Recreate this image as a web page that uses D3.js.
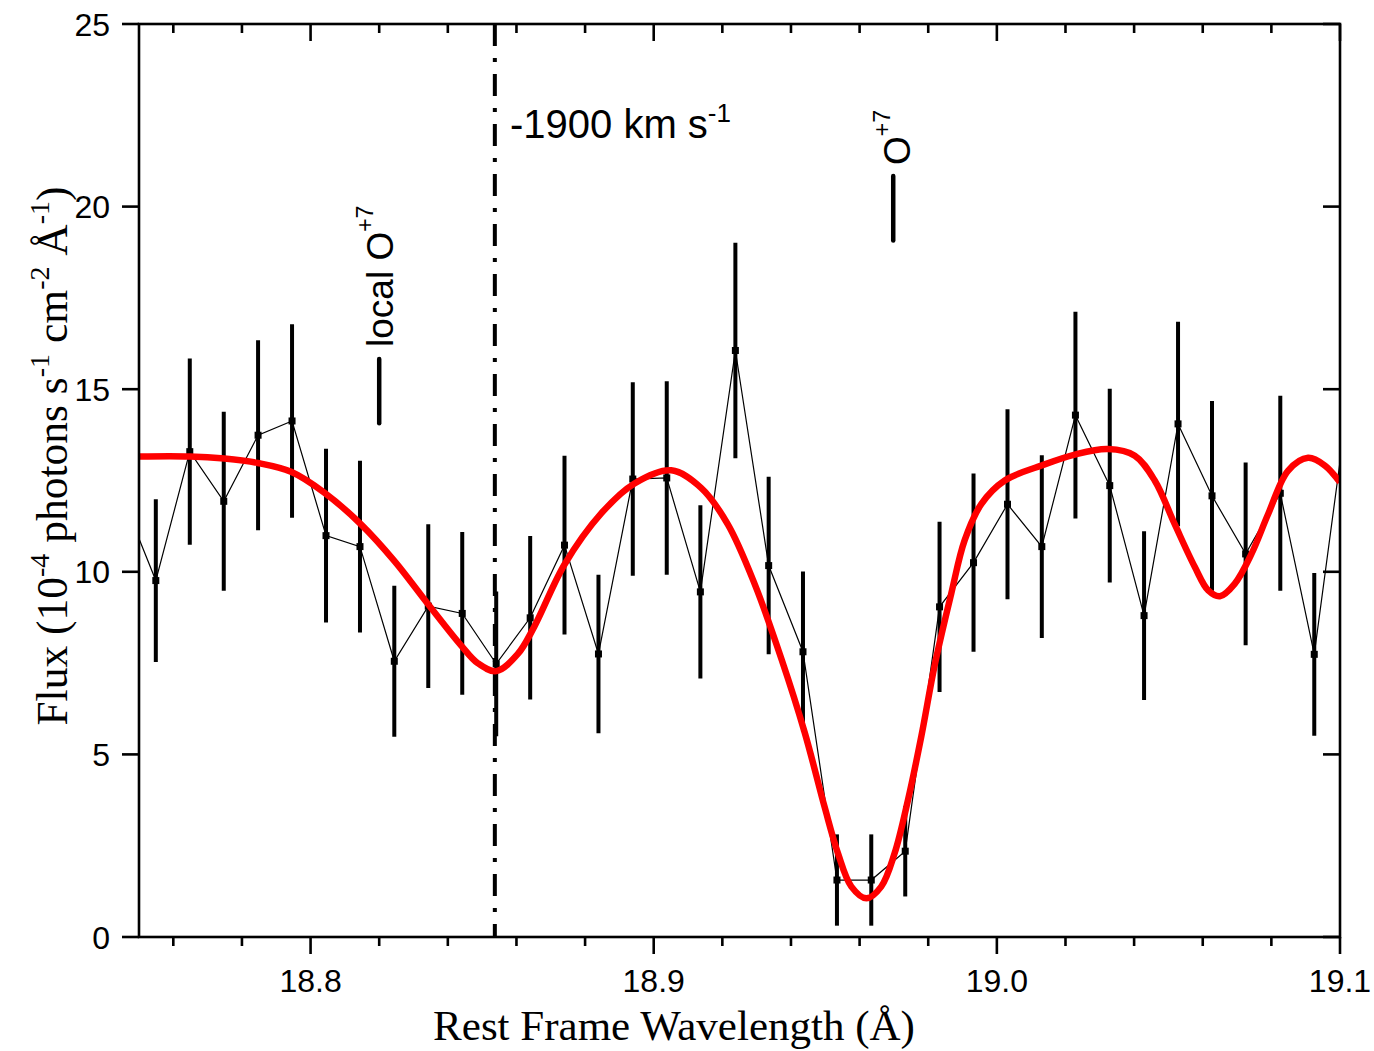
<!DOCTYPE html>
<html>
<head>
<meta charset="utf-8">
<script src="https://cdn.jsdelivr.net/npm/d3@7"></script>
<style>
  html, body { margin: 0; padding: 0; background: #fff; }
  svg { display: block; }
</style>
</head>
<body>
<svg id="chart" width="1374" height="1051"></svg>
<script>
// Binned spectrum: rest-frame wavelength (Å), flux (1e-4 photons s^-1 cm^-2 Å^-1), 1-sigma error
const wavelength = [18.7449, 18.7549, 18.7648, 18.7747, 18.7847, 18.7946, 18.8045, 18.8144, 18.8244,
  18.8343, 18.8442, 18.8541, 18.8640, 18.8740, 18.8839, 18.8939, 18.9038, 18.9136, 18.9238,
  18.9335, 18.9435, 18.9534, 18.9634, 18.9733, 18.9833, 18.9932, 19.0031, 19.0131, 19.0229,
  19.0329, 19.0429, 19.0528, 19.0627, 19.0725, 19.0826, 19.0925, 19.1024];
const flux = [12.1, 9.76, 13.29, 11.93, 13.74, 14.13, 10.99, 10.69, 7.55,
  9.06, 8.86, 7.48, 8.74, 10.73, 7.75, 12.54, 12.57, 9.45, 16.06,
  10.17, 7.81, 1.56, 1.56, 2.35, 9.04, 10.25, 11.85, 10.69, 14.29,
  12.36, 8.8, 14.05, 12.08, 10.49, 12.15, 7.74, 14.7];
const fluxErr = [2.4, 2.23, 2.55, 2.45, 2.6, 2.65, 2.38, 2.35, 2.07,
  2.24, 2.23, 1.98, 2.24, 2.45, 2.17, 2.65, 2.65, 2.37, 2.95,
  2.43, 2.2, 1.25, 1.25, 1.24, 2.33, 2.44, 2.6, 2.5, 2.83,
  2.65, 2.31, 2.8, 2.6, 2.5, 2.67, 2.23, 2.8];

// Best-fit absorption model
const modelWavelength = [18.75, 18.7648, 18.7749, 18.7846, 18.7943, 18.8040, 18.8147, 18.8244, 18.8342,
  18.8439, 18.8487, 18.8541, 18.8604, 18.8652, 18.8740, 18.8847, 18.8944, 18.9051, 18.9138,
  18.9216, 18.9294, 18.9372, 18.9440, 18.9498, 18.9537, 18.9576, 18.9620, 18.9663, 18.9702,
  18.9741, 18.9780, 18.9819, 18.9867, 18.9906, 18.9955, 19.0023, 19.0130, 19.0227, 19.0324,
  19.0402, 19.0460, 19.0518, 19.0577, 19.0616, 19.0650, 19.0693, 19.0742, 19.0791, 19.0849,
  19.0907, 19.0956, 19.1];
const modelFlux = [13.16, 13.16, 13.1, 12.98, 12.74, 12.17, 11.3, 10.3, 9.12,
  7.98, 7.5, 7.28, 7.75, 8.5, 10.2, 11.6, 12.42, 12.78, 12.3,
  11.3, 9.67, 7.62, 5.6, 3.56, 2.29, 1.38, 1.06, 1.38, 2.29,
  3.75, 5.5, 7.45, 9.4, 10.86, 11.86, 12.5, 12.91, 13.21, 13.36,
  13.18, 12.5, 11.31, 10.13, 9.49, 9.33, 9.67, 10.49, 11.59, 12.77,
  13.12, 12.91, 12.45];

// Axis ticks
const xMajorTicks = [18.8, 18.9, 19.0, 19.1];
const xMinorTicks = [18.76, 18.78, 18.82, 18.84, 18.86, 18.88, 18.92, 18.94, 18.96, 18.98,
  19.02, 19.04, 19.06, 19.08];
const yTicks = [0, 5, 10, 15, 20, 25];

// Markers
const velocityLine = 18.8537;
const lineMarks = [
  { name: "local O", sup: "+7", wave: 18.8200, lo: 14.07, hi: 15.83 },
  { name: "O", sup: "+7", wave: 18.9698, lo: 19.07, hi: 20.84 }
];

const svg = d3.select("#chart");
const L = 139, R = 1340, T = 24, B = 937;

const x = d3.scaleLinear().domain([18.75, 19.1]).range([L, R]);
const y = d3.scaleLinear().domain([0, 25]).range([B, T]);

svg.append("defs").append("clipPath").attr("id", "plotclip")
  .append("rect").attr("x", L).attr("y", T).attr("width", R - L).attr("height", B - T);

const plot = svg.append("g").attr("clip-path", "url(#plotclip)");

const pts = wavelength.map((w, i) => ({ w, f: flux[i], e: fluxErr[i] }));

// error bars
plot.append("g").selectAll("line").data(pts).join("line")
  .attr("x1", d => x(d.w)).attr("x2", d => x(d.w))
  .attr("y1", d => y(d.f - d.e)).attr("y2", d => y(d.f + d.e))
  .attr("stroke", "#000").attr("stroke-width", 4);

// connecting line
plot.append("path").datum(pts)
  .attr("d", d3.line().x(d => x(d.w)).y(d => y(d.f)))
  .attr("fill", "none").attr("stroke", "#000").attr("stroke-width", 1.2);

// square markers
plot.append("g").selectAll("rect").data(pts).join("rect")
  .attr("x", d => x(d.w) - 3.5).attr("y", d => y(d.f) - 3.5)
  .attr("width", 7).attr("height", 7).attr("fill", "#000");

// velocity marker (dash-dot)
plot.append("line")
  .attr("x1", x(velocityLine)).attr("x2", x(velocityLine))
  .attr("y1", y(25)).attr("y2", y(0))
  .attr("stroke", "#000").attr("stroke-width", 4)
  .attr("stroke-dasharray", "22,12,4,12");

// model curve
const model = modelWavelength.map((w, i) => ({ w, f: modelFlux[i] }));
plot.append("path").datum(model)
  .attr("d", d3.line().x(d => x(d.w)).y(d => y(d.f)).curve(d3.curveCatmullRom.alpha(0.5)))
  .attr("fill", "none").attr("stroke", "#ff0000").attr("stroke-width", 6.5)
  .attr("stroke-linejoin", "round");

// frame
svg.append("rect").attr("x", L).attr("y", T).attr("width", R - L).attr("height", B - T)
  .attr("fill", "none").attr("stroke", "#000").attr("stroke-width", 2.6);

const tickG = svg.append("g").attr("stroke", "#000").attr("stroke-width", 2.6);
const majLen = 17, minLen = 9;
// bottom (outward) and top (inward)
xMajorTicks.forEach(t => {
  tickG.append("line").attr("x1", x(t)).attr("x2", x(t)).attr("y1", B).attr("y2", B + majLen);
  tickG.append("line").attr("x1", x(t)).attr("x2", x(t)).attr("y1", T).attr("y2", T + majLen);
});
xMinorTicks.forEach(t => {
  tickG.append("line").attr("x1", x(t)).attr("x2", x(t)).attr("y1", B).attr("y2", B + minLen);
  tickG.append("line").attr("x1", x(t)).attr("x2", x(t)).attr("y1", T).attr("y2", T + minLen);
});
// left (outward) and right (inward)
yTicks.forEach(t => {
  tickG.append("line").attr("x1", L - majLen).attr("x2", L).attr("y1", y(t)).attr("y2", y(t));
  tickG.append("line").attr("x1", R - majLen).attr("x2", R).attr("y1", y(t)).attr("y2", y(t));
});

const sans = "'Liberation Sans', Arial, sans-serif";
const serif = "'Liberation Serif', 'Times New Roman', serif";

// tick labels
svg.append("g").selectAll("text").data(xMajorTicks).join("text")
  .attr("x", d => x(d)).attr("y", 992)
  .attr("text-anchor", "middle").attr("font-family", sans).attr("font-size", 32)
  .text(d => d3.format(".1f")(d));
svg.append("g").selectAll("text").data(yTicks).join("text")
  .attr("x", 110).attr("y", d => y(d) + 11.5)
  .attr("text-anchor", "end").attr("font-family", sans).attr("font-size", 32)
  .text(d => d);

// axis titles
svg.append("text").attr("x", 674).attr("y", 1040)
  .attr("text-anchor", "middle").attr("font-family", serif).attr("font-size", 43)
  .text("Rest Frame Wavelength (Å)");

const yt = svg.append("text").attr("transform", "translate(67,456) rotate(-90)")
  .attr("text-anchor", "middle").attr("font-family", serif).attr("font-size", 43.5);
const ytParts = [["Flux (10", ""], ["-4", "sup"], [" photons s", ""], ["-1", "sup"],
  [" cm", ""], ["-2", "sup"], [" Å", ""], ["-1", "sup"], [")", ""]];
let raised = false;
ytParts.forEach(([t, kind]) => {
  const sp = yt.append("tspan").text(t);
  if (kind === "sup") {
    sp.attr("font-size", 28).attr("dy", raised ? 0 : -18);
    raised = true;
  } else {
    sp.attr("dy", raised ? 18 : 0);
    raised = false;
  }
});

// velocity label
const vt = svg.append("text").attr("x", 510).attr("y", 138)
  .attr("font-family", sans).attr("font-size", 40);
vt.append("tspan").text("-1900 km s");
vt.append("tspan").attr("font-size", 26).attr("dy", -16).text("-1");

// ion line markers
lineMarks.forEach((m, i) => {
  svg.append("line")
    .attr("x1", x(m.wave)).attr("x2", x(m.wave))
    .attr("y1", y(m.lo)).attr("y2", y(m.hi))
    .attr("stroke", "#000").attr("stroke-width", 4.5).attr("stroke-linecap", "round");
  const bx = i === 0 ? 393 : 910;
  const by = i === 0 ? 347 : 165;
  const t = svg.append("text").attr("transform", `translate(${bx},${by}) rotate(-90)`)
    .attr("font-family", sans).attr("font-size", 37);
  t.append("tspan").text(m.name);
  t.append("tspan").attr("font-size", 23).attr("dy", -20).text(m.sup);
});
</script>
</body>
</html>
